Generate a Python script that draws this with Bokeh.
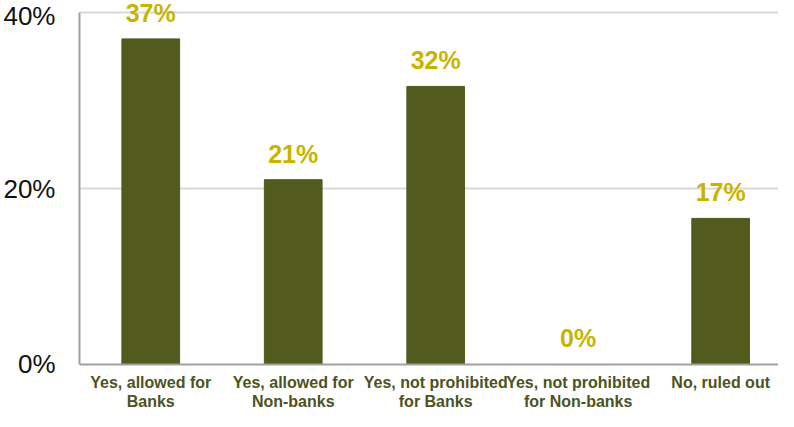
from bokeh.plotting import figure
from bokeh.models import ColumnDataSource, Range1d, FixedTicker, Span
from bokeh.core.properties import value
from bokeh.embed import file_html
from bokeh.resources import INLINE

categories = ["Yes, allowed for\nBanks", "Yes, allowed for\nNon-banks",
              "Yes, not prohibited\nfor Banks", "Yes, not prohibited\nfor Non-banks",
              "No, ruled out"]
values = [37.0, 21.0, 31.6, 0.0, 16.6]
value_labels = ["37%", "21%", "32%", "0%", "17%"]
baseline = [0, 0, 0, 0, 0]
y_ticks = [0, 20, 40]
y_tick_labels = ["0%", "20%", "40%"]

xs = list(range(len(categories)))
src = ColumnDataSource(dict(x=xs, top=values, label=value_labels,
                            cat=categories, base=baseline))

p = figure(width=778, height=411, output_backend="svg", toolbar_location=None,
           x_range=Range1d(-0.5, 4.406), y_range=Range1d(-5.341, 41.364),
           x_axis_location=None,
           min_border_left=76, min_border_right=0, min_border_top=0, min_border_bottom=0)
p.outline_line_color = None
p.background_fill_color = "white"

p.xgrid.grid_line_color = None
p.ygrid.grid_line_color = "#d9d9d9"
p.ygrid.grid_line_width = 2
p.ygrid.ticker = FixedTicker(ticks=[20, 40])

p.vbar(x="x", top="top", bottom="base", width=0.405, source=src, color="#525a1e")

# x axis line at zero
p.add_layout(Span(location=0, dimension="width", line_color="#a0a0a0", line_width=2))

# value labels
p.text(x="x", y="top", text="label", source=src, y_offset=-12,
       text_align="center", text_baseline="bottom",
       text_font=value("Liberation Sans"), text_font_style="bold",
       text_font_size="25px", text_color="#c8b400")

# category labels
p.text(x="x", y="base", text="cat", source=src, y_offset=10,
       text_align="center", text_baseline="top", text_line_height=1.06,
       text_font=value("Liberation Sans"), text_font_style="bold",
       text_font_size="16px", text_color="#4d5320")

p.yaxis.ticker = FixedTicker(ticks=y_ticks)
p.yaxis.bounds = (0, 40)
p.yaxis.major_label_overrides = {t: l for t, l in zip(y_ticks, y_tick_labels)}
p.yaxis.major_tick_line_color = None
p.yaxis.major_tick_out = 0
p.yaxis.major_tick_in = 0
p.yaxis.minor_tick_line_color = None
p.yaxis.axis_line_color = "#a0a0a0"
p.yaxis.axis_line_width = 2
p.yaxis.major_label_text_font = "Liberation Sans"
p.yaxis.major_label_text_font_size = "26px"
p.yaxis.major_label_text_color = "#111111"
p.yaxis.major_label_standoff = 24

open("out.html", "w").write(file_html(p, INLINE))
